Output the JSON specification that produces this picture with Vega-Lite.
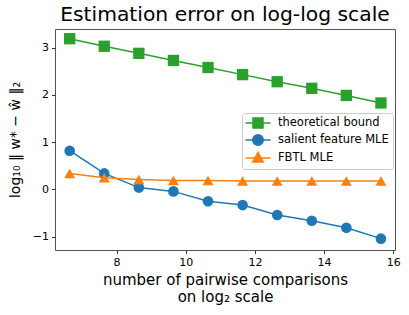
{
  "$schema": "https://vega.github.io/schema/vega-lite/v6.json",
  "autosize": "none",
  "width": 340,
  "height": 221,
  "padding": {"left": 55, "top": 29, "right": 14, "bottom": 65},
  "background": "white",
  "config": {
    "font": "DejaVu Sans",
    "view": {"stroke": "#555", "strokeWidth": 1},
    "axis": {"grid": false, "domain": false, "tickColor": "#333", "tickSize": 3.5, "labelFontSize": 11, "labelColor": "black", "titleColor": "black", "titleFontWeight": "normal", "titleFontSize": 14, "labelPadding": 3},
    "legend": {"orient": "none", "legendX": 187, "legendY": 84, "labelFontSize": 11.5, "labelColor": "black",
      "symbolSize": 100, "symbolOffset": 6, "labelOffset": 14, "padding": 4, "rowPadding": 0, "symbolStrokeWidth": 1.5,
      "strokeColor": "#ccc", "fillColor": "white", "cornerRadius": 3}
  },
  "title": {"text": "Estimation error on log-log scale", "fontSize": 20.3, "fontWeight": "normal", "color": "black", "baseline": "bottom", "offset": 2, "dy": 18},
  "data": {"values": [
    {"x": 6.644, "y": 3.19, "series": "theoretical bound"},
    {"x": 7.644, "y": 3.03, "series": "theoretical bound"},
    {"x": 8.644, "y": 2.88, "series": "theoretical bound"},
    {"x": 9.644, "y": 2.73, "series": "theoretical bound"},
    {"x": 10.644, "y": 2.58, "series": "theoretical bound"},
    {"x": 11.644, "y": 2.43, "series": "theoretical bound"},
    {"x": 12.644, "y": 2.28, "series": "theoretical bound"},
    {"x": 13.644, "y": 2.14, "series": "theoretical bound"},
    {"x": 14.644, "y": 1.99, "series": "theoretical bound"},
    {"x": 15.644, "y": 1.83, "series": "theoretical bound"},
    {"x": 6.644, "y": 0.82, "series": "salient feature MLE"},
    {"x": 7.644, "y": 0.34, "series": "salient feature MLE"},
    {"x": 8.644, "y": 0.04, "series": "salient feature MLE"},
    {"x": 9.644, "y": -0.04, "series": "salient feature MLE"},
    {"x": 10.644, "y": -0.25, "series": "salient feature MLE"},
    {"x": 11.644, "y": -0.33, "series": "salient feature MLE"},
    {"x": 12.644, "y": -0.54, "series": "salient feature MLE"},
    {"x": 13.644, "y": -0.66, "series": "salient feature MLE"},
    {"x": 14.644, "y": -0.81, "series": "salient feature MLE"},
    {"x": 15.644, "y": -1.04, "series": "salient feature MLE"},
    {"x": 6.644, "y": 0.34, "series": "FBTL MLE"},
    {"x": 7.644, "y": 0.25, "series": "FBTL MLE"},
    {"x": 8.644, "y": 0.21, "series": "FBTL MLE"},
    {"x": 9.644, "y": 0.19, "series": "FBTL MLE"},
    {"x": 10.644, "y": 0.19, "series": "FBTL MLE"},
    {"x": 11.644, "y": 0.18, "series": "FBTL MLE"},
    {"x": 12.644, "y": 0.18, "series": "FBTL MLE"},
    {"x": 13.644, "y": 0.18, "series": "FBTL MLE"},
    {"x": 14.644, "y": 0.18, "series": "FBTL MLE"},
    {"x": 15.644, "y": 0.18, "series": "FBTL MLE"}
  ]},
  "encoding": {
    "x": {"field": "x", "type": "quantitative", "scale": {"domain": [6.22, 16.05], "nice": false, "zero": false},
      "axis": {"values": [8, 10, 12, 14, 16], "title": ["number of pairwise comparisons", "on log₂ scale"], "titleFontSize": 15, "titleLineHeight": 17, "titlePadding": 5}},
    "y": {"field": "y", "type": "quantitative", "scale": {"domain": [-1.28, 3.395], "nice": false, "zero": false},
      "axis": {"values": [-1, 0, 1, 2, 3], "title": "log₁₀ ‖ w* − ŵ ‖₂", "titlePadding": 10}}
  },
  "layer": [
    {"transform": [{"filter": "datum.series == 'theoretical bound'"}],
      "layer": [
        {"mark": {"type": "line", "strokeWidth": 1.5},
          "encoding": {"stroke": {"field": "series", "type": "nominal", "title": null, "scale": {"domain": ["theoretical bound", "salient feature MLE", "FBTL MLE"], "range": ["#2ca02c", "#1f77b4", "#ff7f0e"]}}}},
        {"mark": {"type": "point", "filled": true, "opacity": 1, "shape": "square", "size": 128},
          "encoding": {"fill": {"field": "series", "type": "nominal", "title": null, "scale": {"domain": ["theoretical bound", "salient feature MLE", "FBTL MLE"], "range": ["#2ca02c", "#1f77b4", "#ff7f0e"]}}}}
      ]},
    {"transform": [{"filter": "datum.series == 'salient feature MLE'"}],
      "layer": [
        {"mark": {"type": "line", "strokeWidth": 1.5},
          "encoding": {"stroke": {"field": "series", "type": "nominal", "title": null}}},
        {"mark": {"type": "point", "filled": true, "opacity": 1, "shape": "circle", "size": 113},
          "encoding": {"fill": {"field": "series", "type": "nominal", "title": null}}}
      ]},
    {"transform": [{"filter": "datum.series == 'FBTL MLE'"}],
      "layer": [
        {"mark": {"type": "line", "strokeWidth": 1.5},
          "encoding": {"stroke": {"field": "series", "type": "nominal", "title": null}}},
        {"mark": {"type": "point", "filled": true, "opacity": 1, "shape": "triangle-up", "size": 120},
          "encoding": {"fill": {"field": "series", "type": "nominal", "title": null}}}
      ]},
    {"transform": [{"filter": "datum.x > 100"}],
      "mark": {"type": "point", "filled": true, "opacity": 1, "size": 100, "strokeWidth": 1.5},
      "encoding": {
        "shape": {"field": "series", "type": "nominal", "title": null, "scale": {"domain": ["theoretical bound", "salient feature MLE", "FBTL MLE"],
          "range": ["M-2.5,0H2.5M-1,-1H1V1H-1Z", "M-2.5,0H2.5M1.05,0C1.05,0.58,0.58,1.05,0,1.05C-0.58,1.05,-1.05,0.58,-1.05,0C-1.05,-0.58,-0.58,-1.05,0,-1.05C0.58,-1.05,1.05,-0.58,1.05,0Z", "M-2.5,0H2.5M0,-1.15L1.05,0.8L-1.05,0.8Z"]}},
        "fill": {"field": "series", "type": "nominal", "title": null},
        "stroke": {"field": "series", "type": "nominal", "title": null}
      }}
  ]
}
